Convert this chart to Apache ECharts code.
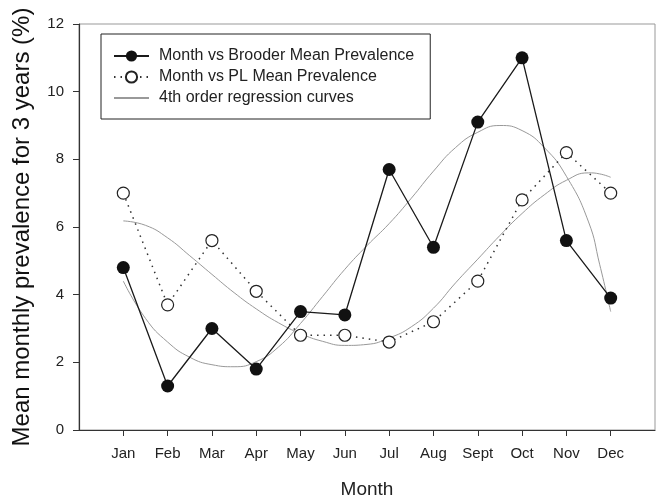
<!DOCTYPE html>
<html>
<head>
<meta charset="utf-8">
<script src="https://cdn.jsdelivr.net/npm/echarts@6/dist/echarts.min.js"></script>
<style>
  html, body { margin: 0; padding: 0; background: #fff; }
  #chart { width: 659px; height: 500px; }
</style>
</head>
<body>
<div id="chart"></div>
<script>
const months = ['Jan', 'Feb', 'Mar', 'Apr', 'May', 'Jun', 'Jul', 'Aug', 'Sept', 'Oct', 'Nov', 'Dec']
const monthPos = [1, 2, 3, 4, 5, 6, 7, 8, 9, 10, 11, 12]
const brooder = [4.8, 1.3, 3.0, 1.8, 3.5, 3.4, 7.7, 5.4, 9.1, 11.0, 5.6, 3.9]
const pl = [7.0, 3.7, 5.6, 4.1, 2.8, 2.8, 2.6, 3.2, 4.4, 6.8, 8.2, 7.0]

// regression curves at half-month steps
const fitX = [1, 1.5, 2, 2.5, 3, 3.5, 4, 4.5, 5, 5.5, 6, 6.5, 7, 7.5, 8, 8.5, 9, 9.5, 10, 10.5, 11, 11.5, 11.75, 12]
const brooderFit = [4.4, 3.3, 2.6, 2.15, 1.93, 1.87, 2.02, 2.45, 3.15, 3.95, 4.75, 5.45, 6.1, 6.85, 7.65, 8.35, 8.8, 9.0, 8.85, 8.35, 7.5, 6.15, 4.9, 3.5]
const plFit = [6.18, 6.05, 5.68, 5.15, 4.6, 4.06, 3.58, 3.17, 2.85, 2.62, 2.5, 2.53, 2.72, 3.05, 3.6, 4.35, 5.05, 5.75, 6.4, 6.95, 7.38, 7.6, 7.57, 7.47]

const font = 'Liberation Sans, Arial, Helvetica, sans-serif'
const fitName = '4th order regression curves'

const pairs = (xs, ys) => xs.map((x, i) => [x, ys[i]])

const getChartOption = () => {
  return {
    backgroundColor: '#fff',
    animation: false,
    textStyle: { fontFamily: font },
    grid: {
      left: 79,
      right: 4,
      top: 24,
      bottom: 70,
      outerBoundsMode: 'none',
      show: true,
      borderColor: '#999',
      borderWidth: 1
    },
    legend: {
      left: 101,
      top: 34,
      orient: 'vertical',
      padding: [14, 16, 13, 12],
      itemGap: 5,
      itemWidth: 35,
      itemHeight: 14,
      borderColor: '#222',
      borderWidth: 1,
      selectedMode: false,
      textStyle: { fontSize: 16, color: '#222', fontFamily: font, padding: [0, 0, 0, 5] },
      data: [
        'Month vs Brooder Mean Prevalence',
        'Month vs PL Mean Prevalence',
        { name: fitName, itemStyle: { opacity: 0 } }
      ]
    },
    xAxis: {
      type: 'value',
      min: 0,
      max: 13,
      interval: 1,
      name: 'Month',
      nameLocation: 'middle',
      nameGap: 50,
      nameTextStyle: { fontSize: 19, color: '#222', fontFamily: font },
      axisLine: { show: true, lineStyle: { color: '#333', width: 1.2 } },
      axisTick: { show: true, length: 6, customValues: monthPos, lineStyle: { color: '#333' } },
      axisLabel: {
        customValues: monthPos,
        margin: 16,
        fontSize: 15,
        color: '#222',
        formatter: (v) => months[Math.round(v) - 1] || ''
      },
      splitLine: { show: false }
    },
    yAxis: {
      type: 'value',
      min: 0,
      max: 12,
      interval: 2,
      name: 'Mean monthly prevalence for 3 years (%)',
      nameLocation: 'middle',
      nameGap: 45,
      nameTextStyle: { fontSize: 24, color: '#111', fontFamily: font },
      axisLine: { show: true, lineStyle: { color: '#333', width: 1.2 } },
      axisTick: { show: true, length: 6, lineStyle: { color: '#333' } },
      axisLabel: { margin: 15, fontSize: 15, color: '#222' },
      splitLine: { show: false }
    },
    series: [
      {
        name: fitName,
        type: 'line',
        data: pairs(fitX, brooderFit),
        smooth: true,
        symbol: 'none',
        lineStyle: { color: '#999', width: 1 },
        itemStyle: { color: '#999' },
        z: 1
      },
      {
        name: fitName,
        type: 'line',
        data: pairs(fitX, plFit),
        smooth: true,
        symbol: 'none',
        lineStyle: { color: '#999', width: 1 },
        itemStyle: { color: '#999' },
        z: 1
      },
      {
        name: 'Month vs PL Mean Prevalence',
        type: 'line',
        data: pairs(monthPos, pl),
        symbol: 'circle',
        symbolSize: 12,
        lineStyle: { color: '#333', width: 1.5, type: [1.5, 5] },
        itemStyle: { color: '#fff', borderColor: '#222', borderWidth: 1.2 },
        z: 3
      },
      {
        name: 'Month vs Brooder Mean Prevalence',
        type: 'line',
        data: pairs(monthPos, brooder),
        symbol: 'circle',
        symbolSize: 13,
        lineStyle: { color: '#1a1a1a', width: 1.3 },
        itemStyle: { color: '#111', borderWidth: 0 },
        z: 4
      }
    ]
  }
}

const chartInstance = echarts.init(document.getElementById('chart'))
chartInstance.setOption(getChartOption())
window.addEventListener('resize', () => chartInstance.resize())
</script>
</body>
</html>
